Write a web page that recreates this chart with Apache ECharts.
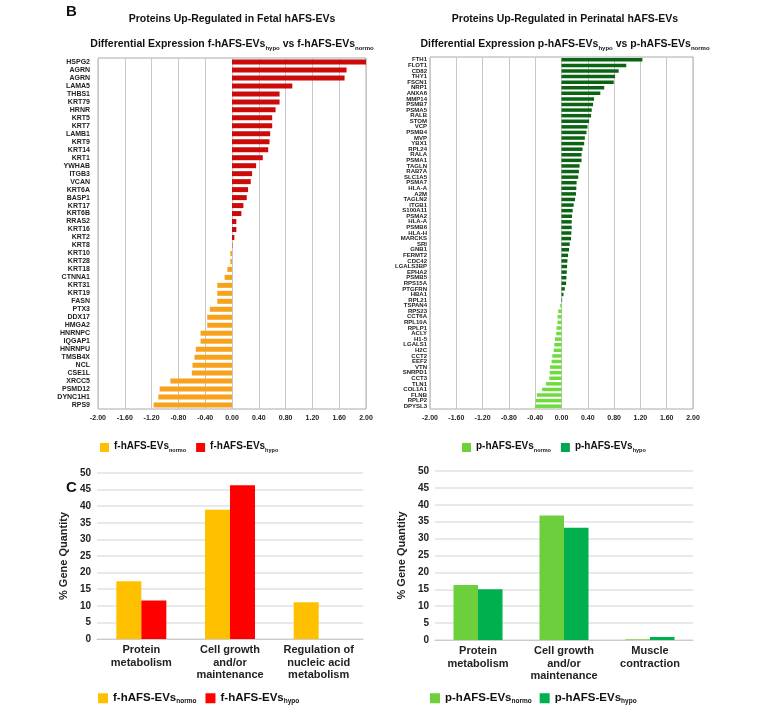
<!DOCTYPE html>
<html>
<head>
<meta charset="utf-8">
<script src="https://cdn.jsdelivr.net/npm/echarts@6/dist/echarts.min.js"></script>
<style>
  html, body { margin: 0; padding: 0; background: #fff; }
  #main { width: 770px; height: 714px; }
</style>
</head>
<body>
<div id="main"></div>
<script>
// B - fold change, fetal
var fetalGenes = ['HSPG2','AGRN','AGRN','LAMA5','THBS1','KRT79','HRNR','KRT5','KRT7','LAMB1','KRT9','KRT14','KRT1','YWHAB','ITGB3','VCAN','KRT6A','BASP1','KRT17','KRT6B','RRAS2','KRT16','KRT2','KRT8','KRT10','KRT28','KRT18','CTNNA1','KRT31','KRT19','FASN','PTX3','DDX17','HMGA2','HNRNPC','IQGAP1','HNRNPU','TMSB4X','NCL','CSE1L','XRCC5','PSMD12','DYNC1H1','RPS9'];
var fetalFC = [2.0,1.71,1.68,0.90,0.71,0.71,0.65,0.60,0.60,0.57,0.56,0.54,0.46,0.36,0.30,0.28,0.24,0.22,0.17,0.14,0.065,0.065,0.035,0.005,-0.025,-0.025,-0.07,-0.11,-0.22,-0.22,-0.22,-0.33,-0.37,-0.37,-0.47,-0.47,-0.54,-0.56,-0.59,-0.60,-0.92,-1.08,-1.10,-1.17];

// B - fold change, perinatal
var perinatalGenes = ['FTH1','FLOT1','CD82','THY1','FSCN1','NRP1','ANXA6','MMP14','PSMB7','PSMA5','RALB','STOM','VCP','PSMB4','MVP','YBX1','RPL24','RALA','PSMA1','TAGLN','RAB7A','SLC1A5','PSMA7','HLA-A','A2M','TAGLN2','ITGB1','S100A11','PSMA2','HLA-A','PSMB6','HLA-H','MARCKS','SRI','GNB1','FERMT2','CDC42','LGALS3BP','EPHA2','PSMB5','RPS15A','PTGFRN','HBA1','RPL21','TSPAN4','RPS23','CCT6A','RPL10A','RPLP1','ACLY','H1-5','LGALS1','H2C','CCT2','EEF2','VTN','SNRPD1','CCT3','TLN1','COL1A1','FLNB','RPLP2','DPYSL3'];
var perinatalFC = [1.23,0.985,0.87,0.815,0.795,0.65,0.59,0.495,0.48,0.46,0.45,0.42,0.395,0.38,0.355,0.345,0.32,0.305,0.305,0.275,0.265,0.255,0.23,0.225,0.22,0.205,0.185,0.17,0.16,0.155,0.155,0.15,0.145,0.125,0.115,0.10,0.09,0.085,0.08,0.075,0.07,0.05,0.03,0.01,-0.02,-0.05,-0.06,-0.06,-0.075,-0.08,-0.10,-0.11,-0.12,-0.14,-0.15,-0.175,-0.18,-0.185,-0.235,-0.295,-0.375,-0.395,-0.40];

var fcTicks = [-2, 2, 0.4];

// C - % gene quantity
var goCatsF = ['Protein\nmetabolism','Cell growth\nand/or\nmaintenance','Regulation of\nnucleic acid\nmetabolism'];
var goNormoF = [17.4, 38.9, 11.1];
var goHypoF = [11.6, 46.3, 0];
var goCatsP = ['Protein\nmetabolism','Cell growth\nand/or\nmaintenance','Muscle\ncontraction'];
var goNormoP = [16.3, 36.8, 0.2];
var goHypoP = [15.0, 33.2, 0.9];

var FONT = 'Liberation Sans, Arial, sans-serif';

var myChart = echarts.init(document.getElementById('main'));

function pos(arr) { return arr.map(function (v) { return v >= 0 ? v : '-'; }); }
function neg(arr) { return arr.map(function (v) { return v < 0 ? v : '-'; }); }

function subRich(fs, sfs) {
    return {
        b: { fontFamily: FONT, fontWeight: 'bold', fontSize: fs, color: '#111', lineHeight: fs + 2, verticalAlign: 'top' },
        s: { fontFamily: FONT, fontWeight: 'bold', fontSize: sfs, color: '#111', lineHeight: sfs + 1, verticalAlign: 'bottom', padding: [fs - sfs + 3, 0, 0, 0] }
    };
}
var legendNames = {
    fn: '{b|f-hAFS-EVs}{s|normo}', fh: '{b|f-hAFS-EVs}{s|hypo}',
    pn: '{b|p-hAFS-EVs}{s|normo}', ph: '{b|p-hAFS-EVs}{s|hypo}',
    fn2: '{b|f-hAFS-EVs}{s|normo}', fh2: '{b|f-hAFS-EVs}{s|hypo}',
    pn2: '{b|p-hAFS-EVs}{s|normo}', ph2: '{b|p-hAFS-EVs}{s|hypo}'
};
function legend(names, colors, left, top, fs, sfs, box, gap) {
    return {
        left: left, top: top, itemGap: gap, itemWidth: box, itemHeight: box, icon: 'rect',
        data: names.map(function (n, i) { return { name: n, itemStyle: { color: colors[i] } }; }),
        formatter: function (n) { return legendNames[n]; },
        textStyle: { rich: subRich(fs, sfs) }
    };
}

function fcX(idx) {
    return {
        gridIndex: idx, type: 'value', min: fcTicks[0], max: fcTicks[1], interval: fcTicks[2],
        axisLine: { show: false }, axisTick: { show: false },
        splitLine: { show: true, lineStyle: { color: '#c8c8c8', width: 1 } },
        axisLabel: { formatter: function (v) { return v.toFixed(2); }, fontFamily: FONT, fontWeight: 'bold', fontSize: 7, color: '#222', margin: 6 }
    };
}
function fcY(idx, genes, fs, margin) {
    return {
        gridIndex: idx, type: 'category', inverse: true, data: genes,
        axisLine: { show: false }, axisTick: { show: false },
        axisLabel: { interval: 0, fontFamily: FONT, fontWeight: 'bold', fontSize: fs, color: '#222', margin: margin }
    };
}
function goX(idx, cats) {
    return {
        gridIndex: idx, type: 'category', data: cats,
        axisLine: { lineStyle: { color: '#ccc' } }, axisTick: { show: false },
        axisLabel: { interval: 0, fontFamily: FONT, fontWeight: 'bold', fontSize: 11, lineHeight: 12.5, color: '#222', margin: 5 }
    };
}
function goY(idx) {
    return {
        gridIndex: idx, type: 'value', min: 0, max: 50, interval: 5,
        name: '% Gene Quantity', nameLocation: 'middle', nameGap: 28,
        nameTextStyle: { fontFamily: FONT, fontWeight: 'bold', fontSize: 11, color: '#222' },
        axisLine: { show: false }, axisTick: { show: false },
        splitLine: { lineStyle: { color: '#e2e2e2', width: 1.5 } },
        axisLabel: { fontFamily: FONT, fontWeight: 'bold', fontSize: 10, color: '#222', margin: 6 }
    };
}

function titleText(x, y, txt, rich) {
    return { type: 'text', x: x, y: y, style: { text: txt, align: 'center', verticalAlign: 'middle', rich: rich, font: 'bold 10.5px ' + FONT, fill: '#111' } };
}

option = {
    backgroundColor: '#fff',
    animation: false,
    graphic: [
        { type: 'text', x: 66, y: 4, style: { text: 'B', font: 'bold 15px ' + FONT, fill: '#111' } },
        { type: 'text', x: 66, y: 480, style: { text: 'C', font: 'bold 15px ' + FONT, fill: '#111' } },
        titleText(232, 19, 'Proteins Up-Regulated in Fetal hAFS-EVs'),
        titleText(565, 19, 'Proteins Up-Regulated in Perinatal hAFS-EVs'),
        titleText(232, 45, '{b|Differential Expression f-hAFS-EVs}{s|hypo}{b| vs f-hAFS-EVs}{s|normo}', subRich(10.5, 6)),
        titleText(565, 45, '{b|Differential Expression p-hAFS-EVs}{s|hypo}{b| vs p-hAFS-EVs}{s|normo}', subRich(10.5, 6))
    ],
    legend: [
        legend(['fn', 'fh'], ['#ffc000', '#ff0000'], 95, 435, 10, 5.5, 9, 10),
        legend(['pn', 'ph'], ['#6dcf3c', '#00a651'], 457, 435, 10, 5.5, 9, 10),
        legend(['fn2', 'fh2'], ['#ffc000', '#ff0000'], 93, 685, 11.5, 6.5, 10, 9),
        legend(['pn2', 'ph2'], ['#6dcf3c', '#00b04f'], 425, 685, 11.5, 6.5, 10, 8)
    ],
    grid: [
        { left: 98, top: 58, width: 268, height: 351, show: true, borderColor: '#aaa', borderWidth: 1 },
        { left: 430, top: 57, width: 263, height: 352, show: true, borderColor: '#aaa', borderWidth: 1 },
        { left: 97, top: 473, width: 266, height: 166 },
        { left: 435, top: 471, width: 258, height: 169 }
    ],
    xAxis: [fcX(0), fcX(1), goX(2, goCatsF), goX(3, goCatsP)],
    yAxis: [fcY(0, fetalGenes, 7, 8), fcY(1, perinatalGenes, 6, 3), goY(2), goY(3)],
    series: [
        { name: 'fh', type: 'bar', xAxisIndex: 0, yAxisIndex: 0, data: pos(fetalFC), barWidth: 5, barGap: '-100%', itemStyle: { color: '#cc0a0a' } },
        { name: 'fn', type: 'bar', xAxisIndex: 0, yAxisIndex: 0, data: neg(fetalFC), barWidth: 5, barGap: '-100%', itemStyle: { color: '#f8a21c' } },
        { name: 'ph', type: 'bar', xAxisIndex: 1, yAxisIndex: 1, data: pos(perinatalFC), barWidth: 3.5, barGap: '-100%', itemStyle: { color: '#0b6414' } },
        { name: 'pn', type: 'bar', xAxisIndex: 1, yAxisIndex: 1, data: neg(perinatalFC), barWidth: 3.5, barGap: '-100%', itemStyle: { color: '#6edc3c' } },
        { name: 'fn2', type: 'bar', xAxisIndex: 2, yAxisIndex: 2, data: goNormoF, barWidth: 25, barGap: '0%', itemStyle: { color: '#ffc000' } },
        { name: 'fh2', type: 'bar', xAxisIndex: 2, yAxisIndex: 2, data: goHypoF, barWidth: 25, barGap: '0%', itemStyle: { color: '#ff0000' } },
        { name: 'pn2', type: 'bar', xAxisIndex: 3, yAxisIndex: 3, data: goNormoP, barWidth: 24.5, barGap: '0%', itemStyle: { color: '#6dcf3c' } },
        { name: 'ph2', type: 'bar', xAxisIndex: 3, yAxisIndex: 3, data: goHypoP, barWidth: 24.5, barGap: '0%', itemStyle: { color: '#00b04f' } }
    ]
};
myChart.setOption(option);
</script>
</body>
</html>
